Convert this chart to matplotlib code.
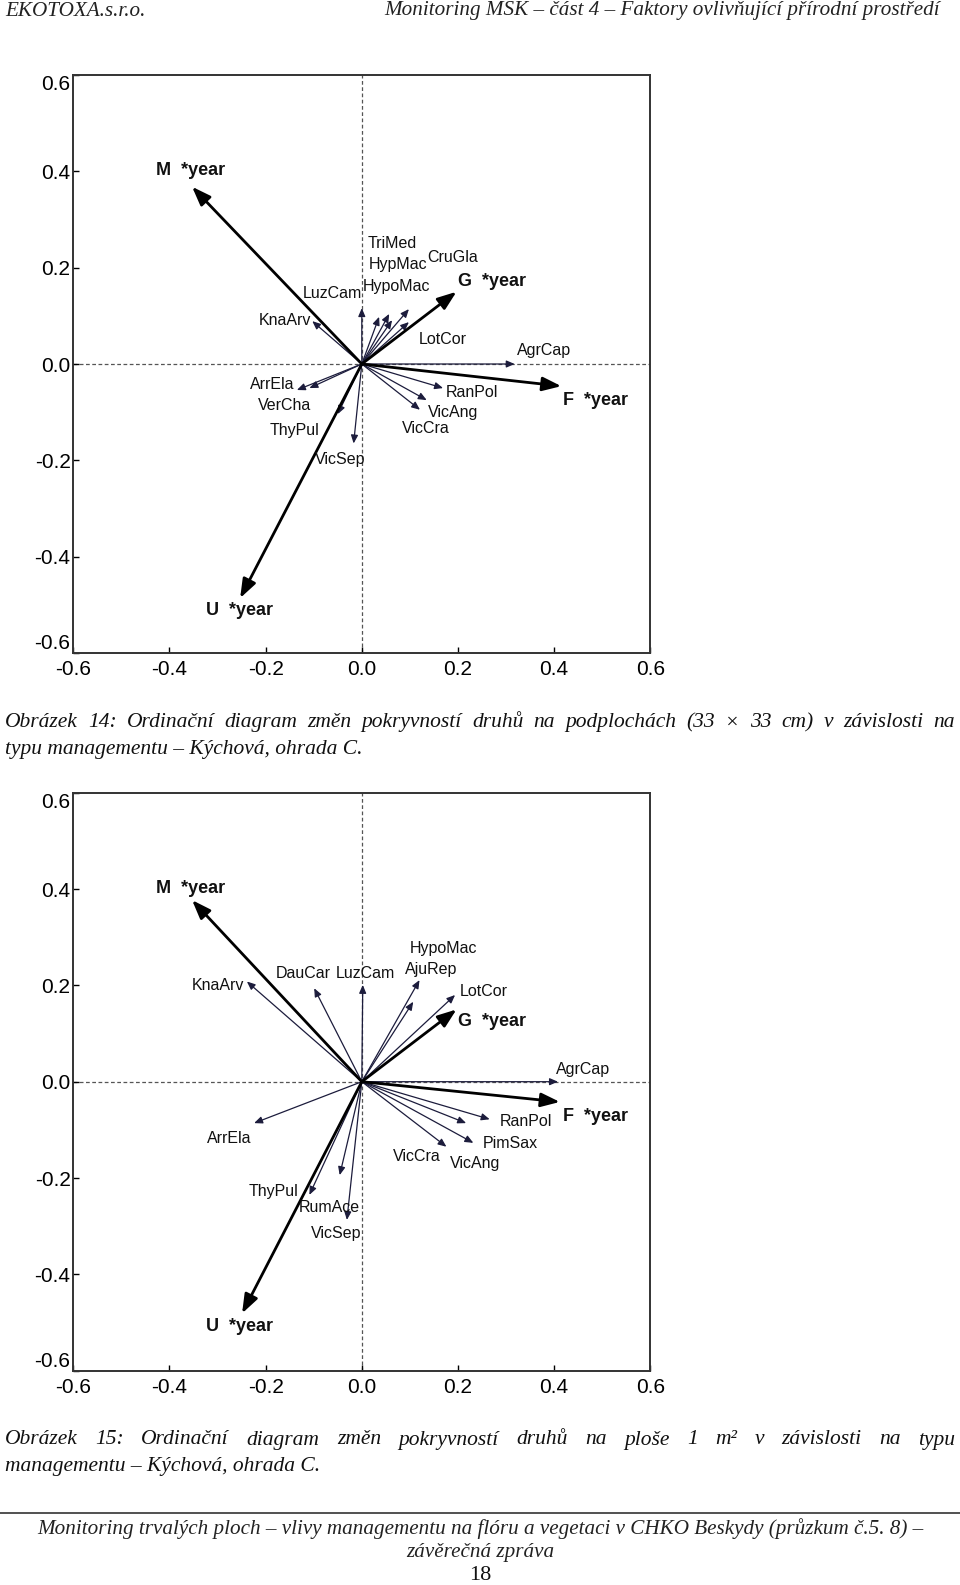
import matplotlib
matplotlib.use("Agg")
import matplotlib.pyplot as plt

plt.rcParams["axes.unicode_minus"] = False

W, H = 960, 1585

# environmental vectors (management * year), same order in both diagrams
env_names = ["M", "G", "F", "U"]
env14_x = [-0.353, 0.197, 0.415, -0.253]
env14_y = [0.368, 0.150, -0.046, -0.486]
env15_x = [-0.353, 0.197, 0.412, -0.249]
env15_y = [0.377, 0.150, -0.042, -0.481]

# species vectors, Obrazek 14 (subplots 33 x 33 cm)
sp14_names = ["LuzCam", "TriMed", "HypMac", "HypoMac", "CruGla", "LotCor",
              "KnaArv", "AgrCap", "ArrEla", "VerCha", "ThyPul", "VicSep",
              "RanPol", "VicAng", "VicCra"]
sp14_x = [0.000, 0.036, 0.057, 0.063, 0.098, 0.098, -0.103, 0.318, -0.135,
          -0.109, -0.050, -0.017, 0.169, 0.135, 0.121]
sp14_y = [0.116, 0.098, 0.104, 0.091, 0.114, 0.087, 0.089, 0.000, -0.054,
          -0.050, -0.104, -0.165, -0.050, -0.075, -0.095]

# species vectors, Obrazek 15 (1 m2 plots)
sp15_names = ["KnaArv", "DauCar", "LuzCam", "HypoMac", "AjuRep", "LotCor",
              "AgrCap", "ArrEla", "ThyPul", "RumAce", "VicSep", "RanPol",
              "VicAng", "PimSax", "VicCra"]
sp15_x = [-0.239, -0.099, 0.002, 0.120, 0.107, 0.194, 0.408, -0.224, -0.109,
          -0.046, -0.031, 0.266, 0.217, 0.232, 0.176]
sp15_y = [0.208, 0.194, 0.201, 0.211, 0.166, 0.180, 0.000, -0.086, -0.235,
          -0.194, -0.287, -0.078, -0.086, -0.127, -0.135]

ticks = [-0.6, -0.4, -0.2, 0.0, 0.2, 0.4, 0.6]

# label anchors (left edge, middle), data units
env14_lab = [(-0.427, 0.401), (0.200, 0.171), (0.419, -0.075), (-0.325, -0.511)]
env15_lab = [(-0.427, 0.401), (0.200, 0.126), (0.419, -0.072), (-0.325, -0.508)]
sp14_lab = [(-0.122, 0.147), (0.012, 0.251), (0.014, 0.206), (0.003, 0.161),
            (0.136, 0.221), (0.118, 0.050), (-0.215, 0.090), (0.322, 0.029),
            (-0.233, -0.042), (-0.217, -0.087), (-0.192, -0.138),
            (-0.097, -0.198), (0.175, -0.059), (0.138, -0.100),
            (0.084, -0.134)]
sp15_lab = [(-0.353, 0.200), (-0.180, 0.224), (-0.055, 0.224), (0.100, 0.277),
            (0.090, 0.233), (0.203, 0.188), (0.403, 0.026), (-0.323, -0.118),
            (-0.235, -0.228), (-0.132, -0.261), (-0.106, -0.315),
            (0.286, -0.082), (0.183, -0.169), (0.251, -0.128),
            (0.064, -0.156)]

SANS = ["Liberation Sans"]
SERIF = ["Liberation Serif"]


def ordination(ax, ex, ey, elab, names, sx, sy, slab):
    ax.set_xlim(-0.6, 0.6)
    ax.set_ylim(-0.6, 0.6)
    ax.axhline(0, color="#555555", lw=0.9, ls=(0, (3, 2)), zorder=1)
    ax.axvline(0, color="#555555", lw=0.9, ls=(0, (3, 2)), zorder=1)
    for x, y in zip(sx, sy):
        ax.annotate("", xy=(x, y), xytext=(0, 0),
                    arrowprops=dict(arrowstyle="-|>,head_length=0.7,head_width=0.3",
                                    mutation_scale=7, lw=0.9, color="#1c1c3c",
                                    shrinkA=0, shrinkB=0), zorder=2)
    for x, y in zip(ex, ey):
        ax.annotate("", xy=(x, y), xytext=(0, 0),
                    arrowprops=dict(arrowstyle="-|>,head_length=0.95,head_width=0.35",
                                    mutation_scale=12, lw=2.0, color="black",
                                    shrinkA=0, shrinkB=0), zorder=3)
    for n, (lx, ly) in zip(names, slab):
        ax.text(lx, ly, n, ha="left", va="center", fontsize=11.5,
                family=SANS, color="#111111")
    for n, (lx, ly) in zip(env_names, elab):
        ax.text(lx, ly, n + "  *year", ha="left", va="center", fontsize=13,
                family=SANS, fontweight="bold", color="#111111")
    ax.set_xticks(ticks)
    ax.set_yticks(ticks)
    ax.set_xticklabels(["%.1f" % t for t in ticks])
    ax.set_yticklabels(["%.1f" % t for t in ticks])
    ax.tick_params(direction="in", length=4, width=1, labelsize=15,
                   top=False, right=False)
    ax.tick_params(axis="x", pad=5)
    ax.tick_params(axis="y", pad=2)
    for lab in ax.get_xticklabels() + ax.get_yticklabels():
        lab.set_family(SANS)
    # end labels of the y axis sit inside the frame height
    ylabs = ax.get_yticklabels()
    ylabs[0].set_verticalalignment("bottom")
    ylabs[-1].set_verticalalignment("top")
    for s in ax.spines.values():
        s.set_linewidth(1.4)
        s.set_color("#333333")


fig = plt.figure(figsize=(W / 100, H / 100), dpi=100)
fig.patch.set_facecolor("white")

ax1 = fig.add_axes([73.3 / W, 1 - 653 / H, 577 / W, 578 / H])
ordination(ax1, env14_x, env14_y, env14_lab, sp14_names, sp14_x, sp14_y, sp14_lab)

ax2 = fig.add_axes([73.3 / W, 1 - 1370.7 / H, 577 / W, 578 / H])
ordination(ax2, env15_x, env15_y, env15_lab, sp15_names, sp15_x, sp15_y, sp15_lab)


def px(x, y):
    return x / W, 1 - y / H


renderer = fig.canvas.get_renderer()


def justify(text, y, x0, x1, **kw):
    words = text.split(" ")
    arts = [fig.text(*px(0, y), w, va="center", ha="left", **kw) for w in words]
    widths = [a.get_window_extent(renderer).width for a in arts]
    gap = (x1 - x0 - sum(widths)) / (len(words) - 1)
    x = x0
    for a, w in zip(arts, widths):
        a.set_x(x / W)
        x += w + gap


cap = dict(family=SERIF, style="italic", fontsize=15.5, color="#111111")
small = dict(family=SERIF, style="italic", fontsize=15.2, color="#222222")

# page header
fig.text(*px(5, 11), "EKOTOXA.s.r.o.", ha="left", va="center", **small)
fig.text(*px(940, 11), "Monitoring MSK – část 4 – Faktory ovlivňující přírodní prostředí",
         ha="right", va="center", **small)

# captions
justify("Obrázek 14: Ordinační diagram změn pokryvností druhů na podplochách "
        "(33 × 33 cm) v závislosti na", 723, 5, 955, **cap)
fig.text(*px(5, 750), "typu managementu – Kýchová, ohrada C.", ha="left",
         va="center", **cap)
justify("Obrázek 15: Ordinační diagram změn pokryvností druhů na ploše 1 m² "
        "v závislosti na typu", 1440, 5, 955, **cap)
fig.text(*px(5, 1466), "managementu – Kýchová, ohrada C.", ha="left",
         va="center", **cap)

# footer
fig.add_artist(plt.Line2D([0, 1], [1 - 1513 / H] * 2, color="#333333", lw=1.2))
fig.text(*px(480, 1529), "Monitoring trvalých ploch – vlivy managementu na flóru "
         "a vegetaci v CHKO Beskydy (průzkum č.5. 8) –", ha="center", va="center", **small)
fig.text(*px(480, 1553), "závěrečná zpráva", ha="center", va="center", **small)
fig.text(*px(480, 1575), "18", ha="center", va="center", family=SERIF,
         fontsize=16, color="#111111")

fig.savefig("out.png", dpi=100)
